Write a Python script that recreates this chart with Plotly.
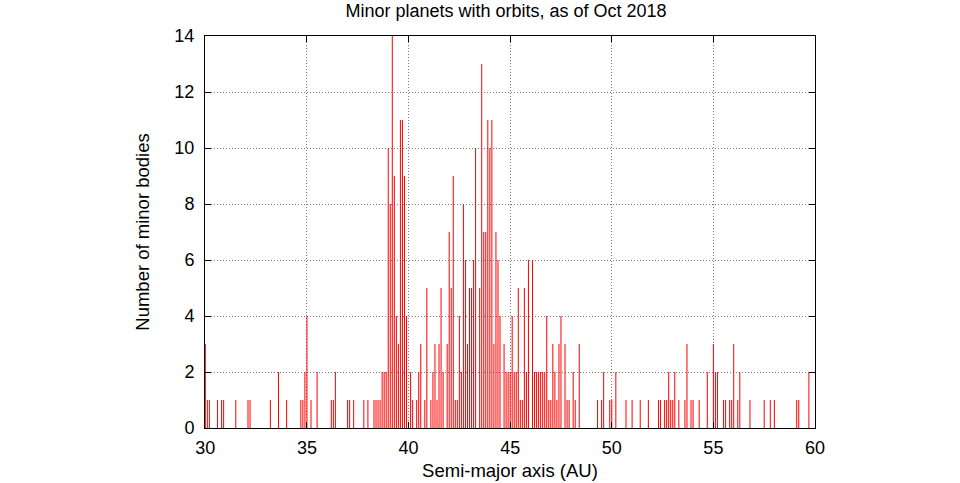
import plotly.graph_objects as go

# Histogram of semi-major axes, 0.1 AU bins: bin centres (AU) of non-empty bins and counts
semi_major_axis = [
    30.0, 30.1, 30.2, 30.6, 30.8, 30.9, 31.5, 32.1, 32.2,
    33.2, 33.6, 34.0, 34.7, 34.8, 34.9, 35.0, 35.2, 35.5,
    36.2, 36.3, 36.4, 37.0, 37.1, 37.3, 37.8, 38.0,
    38.3, 38.4, 38.5, 38.6, 38.7, 38.8, 38.9,
    39.0, 39.1, 39.2, 39.3, 39.4, 39.5, 39.6, 39.7, 39.8, 39.9,
    40.1, 40.2, 40.4, 40.5, 40.6, 40.8, 40.9,
    41.1, 41.2, 41.3, 41.4, 41.5, 41.6, 41.7, 41.9,
    42.0, 42.1, 42.2, 42.3, 42.4, 42.5, 42.6, 42.7, 42.8, 42.9,
    43.0, 43.1, 43.2, 43.3, 43.5, 43.6, 43.7, 43.8, 43.9,
    44.0, 44.1, 44.2, 44.3, 44.4, 44.5, 44.7, 44.8, 44.9,
    45.0, 45.1, 45.2, 45.3, 45.4, 45.5, 45.6, 45.7, 45.8, 45.9,
    46.1, 46.2, 46.3, 46.4, 46.5, 46.6, 46.7, 46.8, 46.9,
    47.0, 47.1, 47.2, 47.3, 47.4, 47.5, 47.7, 47.8, 47.9,
    48.1, 48.2, 48.4,
    49.3, 49.5, 49.6, 49.9, 50.0, 50.2, 50.7, 51.0, 51.4, 51.8,
    52.3, 52.4, 52.6, 52.7, 52.8, 52.9, 53.0, 53.1, 53.3,
    53.6, 53.7, 53.9, 54.0, 54.3, 54.7, 55.0, 55.1, 55.2,
    55.5, 55.6, 55.8, 55.9, 56.0, 56.2, 56.3, 56.8, 57.5,
    57.8, 58.0, 59.1, 59.2, 59.7,
]
bodies = [
    3, 1, 1, 1, 1, 1, 1, 1, 1,
    1, 2, 1, 1, 1, 2, 4, 1, 2,
    1, 1, 2, 1, 1, 1, 1, 1,
    1, 1, 1, 1, 2, 2, 2,
    10, 8, 14, 9, 4, 3, 11, 11, 9, 4,
    2, 1, 1, 2, 3, 1, 5,
    1, 2, 3, 1, 3, 5, 2, 3,
    7, 5, 9, 1, 1, 4, 2, 8, 6, 3,
    5, 5, 6, 10, 5, 13, 7, 7, 11,
    10, 11, 3, 7, 6, 4, 3, 2, 2,
    2, 4, 2, 2, 5, 1, 1, 5, 2, 6,
    6, 2, 2, 2, 2, 2, 2, 4, 1,
    1, 3, 2, 1, 3, 4, 3, 1, 1,
    2, 1, 3,
    1, 1, 2, 1, 1, 2, 1, 1, 1, 1,
    1, 1, 1, 1, 2, 1, 1, 2, 1,
    1, 3, 1, 1, 1, 2, 3, 2, 2,
    1, 1, 1, 1, 3, 1, 2, 1, 1,
    1, 1, 1, 1, 2,
]

x_ticks = [30, 35, 40, 45, 50, 55, 60]
y_ticks = [0, 2, 4, 6, 8, 10, 12, 14]

W, H = 960, 483
L, R, T, B = 205, 145, 36, 55

# histogram drawn as thin impulses (one vertical stroke per bin)
xs, ys = [], []
for a, n in zip(semi_major_axis, bodies):
    xs += [a, a, None]
    ys += [0, n, None]

fig = go.Figure()
fig.add_trace(go.Scatter(
    x=xs, y=ys, mode="lines", line=dict(color="#ff0000", width=1),
    hoverinfo="skip", connectgaps=False,
))

font = "Liberation Sans, Arial, Helvetica, sans-serif"
fig.update_layout(
    width=W, height=H,
    margin=dict(l=L, r=R, t=T, b=B, pad=0),
    # transparent background, like the reference picture
    paper_bgcolor="rgba(0,0,0,0)", plot_bgcolor="rgba(0,0,0,0)",
    font=dict(family=font, size=18, color="#000000"),
    title=dict(text="Minor planets with orbits, as of Oct 2018", x=506 / W,
               xanchor="center", y=1 - 11 / H, yanchor="middle",
               font=dict(size=18)),
    showlegend=False,
)
fig.update_xaxes(
    range=[29.984, 60], tickvals=x_ticks, ticks="inside", ticklen=6, tickcolor="#000",
    showline=True, linecolor="#000", linewidth=1, mirror="ticks",
    showgrid=True, gridcolor="#7a7a7a", griddash="1px,2px", gridwidth=1, zeroline=False,
    ticklabelstandoff=3, automargin=False, tickfont=dict(size=18),
    title=dict(text="Semi-major axis (AU)", standoff=7, font=dict(size=18.5)),
)
fig.update_yaxes(
    range=[0, 14], tickvals=y_ticks, ticks="inside", ticklen=6, tickcolor="#000",
    showline=True, linecolor="#000", linewidth=1, mirror="ticks",
    showgrid=True, gridcolor="#7a7a7a", griddash="1px,2px", gridwidth=1, zeroline=False,
    ticklabelstandoff=6, automargin=False, tickfont=dict(size=18),
    title=dict(text="Number of minor bodies", standoff=19, font=dict(size=18.5)),
)
post = ("document.body.style.margin='0';document.body.style.padding='0';"
        "document.body.style.overflow='hidden';")
fig.write_html("out.html", config={"displayModeBar": False}, post_script=post)
